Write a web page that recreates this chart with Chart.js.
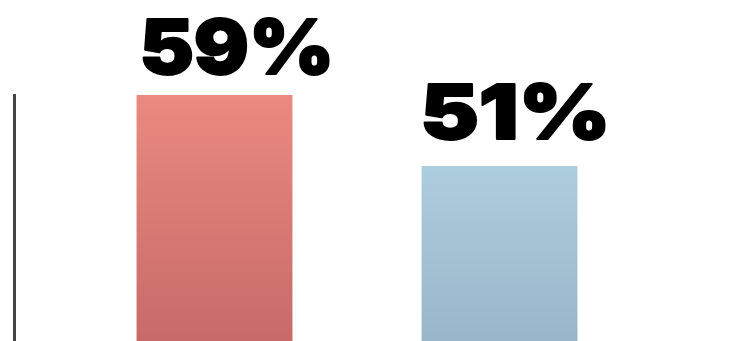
<!DOCTYPE html>
<html>
<head>
<meta charset="utf-8">
<script src="https://cdn.jsdelivr.net/npm/chart.js@4"></script>
<style>
  html, body { margin: 0; padding: 0; background: #fff; }
  #wrap { width: 752px; height: 341px; }
</style>
</head>
<body>
<div id="wrap"><canvas id="chart"></canvas></div>
<script>
const CATEGORIES = ['A', 'B'];
const VALUES = [59, 51];
const LABELS = ['59%', '51%'];

// vertical gradient per bar (top -> bottom)
function barFill(ctx) {
    const chart = ctx.chart;
    const area = chart.chartArea;
    if (!area) return '#e0807a';
    const g = chart.ctx.createLinearGradient(0, 90, 0, area.bottom);
    if (ctx.dataIndex === 0) {
        g.addColorStop(0, '#ea8a82');
        g.addColorStop(1, '#c86a68');
    } else {
        g.addColorStop(0, '#b6d8e6');
        g.addColorStop(1, '#98b6ca');
    }
    return g;
}

const decor = {
    id: 'decor',
    afterDatasetsDraw(chart) {
        const c = chart.ctx;
        const meta = chart.getDatasetMeta(0);
        const y = chart.scales.y;
        // left axis rule
        c.save();
        c.fillStyle = '#444';
        c.fillRect(13, y.getPixelForValue(VALUES[0]) - 1, 3, chart.height);
        c.restore();

        // value labels, stretched to the width they have in the original
        const widths = [188, 183];
        const offs = [5, 1];
        const gaps = [20, 26];
        meta.data.forEach((bar, i) => {
            c.save();
            c.fillStyle = '#000';
            c.strokeStyle = '#000';
            c.lineWidth = 2;
            c.lineJoin = 'round';
            c.font = '900 76px Inter, sans-serif';
            c.textAlign = 'left';
            c.textBaseline = 'alphabetic';
            const m = c.measureText(LABELS[i]);
            const w = m.actualBoundingBoxLeft + m.actualBoundingBoxRight + 2;
            const sx = widths[i] / w;
            const left = bar.x - bar.width / 2 + offs[i];
            c.translate(left, bar.y - gaps[i] - 1);
            c.scale(sx, 1);
            c.fillText(LABELS[i], m.actualBoundingBoxLeft + 1, 0);
            c.strokeText(LABELS[i], m.actualBoundingBoxLeft + 1, 0);
            c.restore();
        });
    }
};

new Chart(document.getElementById('chart'), {
    type: 'bar',
    data: {
        labels: CATEGORIES,
        datasets: [{
            data: VALUES,
            backgroundColor: barFill,
            borderWidth: 0,
            barPercentage: 0.547,
            categoryPercentage: 1
        }]
    },
    options: {
        responsive: true,
        maintainAspectRatio: false,
        animation: false,
        layout: { padding: { left: 72, right: 110, top: 0, bottom: 0 } },
        plugins: { legend: { display: false }, tooltip: { enabled: false } },
        scales: {
            x: { display: false },
            y: { display: false, min: 31.3, max: 69.7 }
        }
    },
    plugins: [decor]
});
</script>
</body>
</html>
